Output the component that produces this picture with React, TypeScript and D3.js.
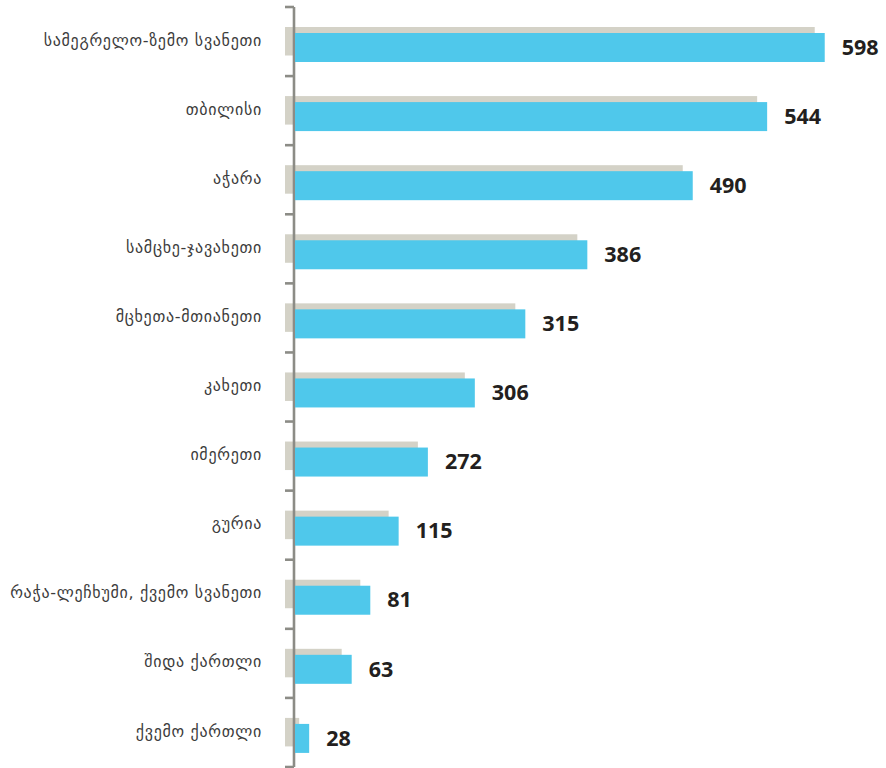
import React from "react";
import * as d3 from "d3";

const categories = [
  "სამეგრელო-ზემო სვანეთი",
  "თბილისი",
  "აჭარა",
  "სამცხე-ჯავახეთი",
  "მცხეთა-მთიანეთი",
  "კახეთი",
  "იმერეთი",
  "გურია",
  "რაჭა-ლეჩხუმი, ქვემო სვანეთი",
  "შიდა ქართლი",
  "ქვემო ქართლი",
];

const values = [598, 544, 490, 386, 315, 306, 272, 115, 81, 63, 28];

// Bar lengths as drawn in the reference (not proportional to the printed values)
const barLengths = [598, 533, 449, 330, 260, 203, 150, 117, 85, 64, 16];

const W = 886;
const H = 768;
const AXIS_X = 294;

export default function App() {
  const y = d3.scaleBand<string>().domain(categories).range([7, 767]).padding(0);
  const x = d3.scaleLinear().domain([0, 600]).range([0, 531.5]);
  const bw = y.bandwidth();
  const ticks = [...categories.map((c) => y(c) as number), 767];

  return (
    <svg
      width={W}
      height={H}
      style={{ position: "absolute", left: 0, top: 0, background: "#fff" }}
    >
      {/* shadow bars */}
      {categories.map((c, i) => (
        <rect
          key={"s" + c}
          x={AXIS_X - 9}
          y={(y(c) as number) + 20}
          width={x(barLengths[i])}
          height={28.5}
          fill="#d4d2c7"
        />
      ))}
      {/* axis */}
      <line x1={AXIS_X} x2={AXIS_X} y1={7} y2={767} stroke="#8c8c86" strokeWidth={2.6} />
      {ticks.map((t, i) => (
        <line key={"t" + i} x1={285} x2={AXIS_X} y1={t} y2={t} stroke="#8c8c86" strokeWidth={2.6} />
      ))}
      {/* main bars */}
      {categories.map((c, i) => (
        <rect
          key={"b" + c}
          x={AXIS_X + 1}
          y={(y(c) as number) + 26}
          width={x(barLengths[i])}
          height={29}
          fill="#4fc8eb"
        />
      ))}
      {/* value labels */}
      {categories.map((c, i) => (
        <text
          key={"v" + c}
          x={AXIS_X + 1 + x(barLengths[i]) + 17}
          y={(y(c) as number) + 26 + 14}
          dy="0.36em"
          fontFamily="'Open Sans', sans-serif"
          fontWeight={700}
          fontSize={21.5}
          fill="#231f20"
        >
          {values[i]}
        </text>
      ))}
      {/* category labels */}
      {categories.map((c) => (
        <text
          key={"c" + c}
          x={262}
          y={(y(c) as number) + bw / 2 - 1}
          dy="0.32em"
          textAnchor="end"
          fontFamily="'DejaVu Sans', sans-serif"
          fontSize={16}
          letterSpacing={0.7}
          fill="#3c3c3c"
        >
          {c}
        </text>
      ))}
    </svg>
  );
}
